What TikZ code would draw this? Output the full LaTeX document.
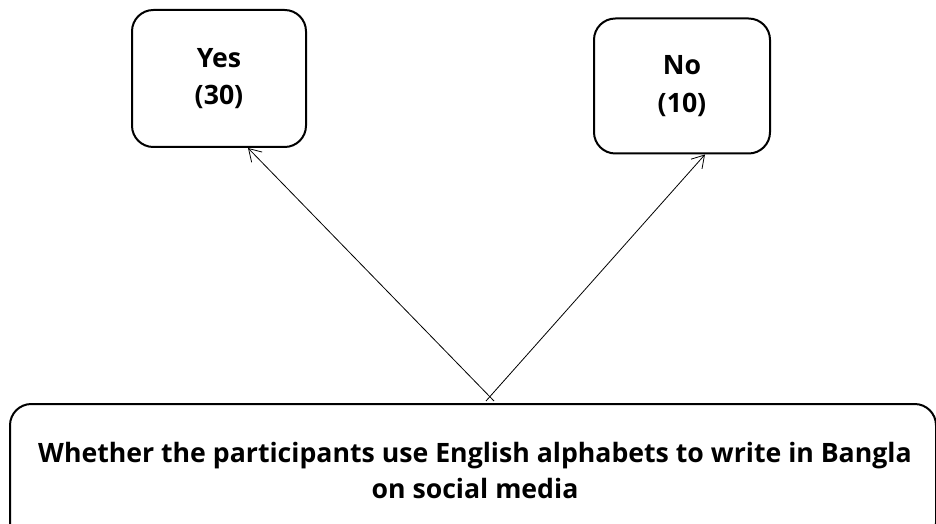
\documentclass[tikz,border=0pt]{standalone}
\usepackage{fontspec}
\setmainfont{Open Sans}
\usetikzlibrary{arrows.meta}

\begin{document}
\begin{tikzpicture}[
    x=0.75pt, y=-0.75pt,
    answer box/.style={draw, line width=1.5pt, rounded corners=16pt, align=center,
        font=\fontsize{20}{28}\selectfont\bfseries, inner sep=0pt},
    question box/.style={draw, line width=1.5pt, rounded corners=16pt},
    question text/.style={align=center, font=\fontsize{20}{27}\selectfont\bfseries},
    answer arrow/.style={-{Straight Barb[length=9pt, width=11pt]}, line width=0.6pt}
]
    % Frame
    \useasboundingbox (0,0) rectangle (936,524);

    % Answer boxes
    \node[answer box, minimum width=130.5pt, minimum height=102.75pt] (yes) at (219,78.5) {Yes\\(30)};
    \node[answer box, minimum width=132pt, minimum height=101.25pt] (no) at (682,86) {No\\(10)};

    % Question box (runs past the bottom edge)
    \node[question box, minimum width=694.5pt, minimum height=105pt, anchor=north west] (question) at (9,403) {};
    \node[question text] (qtext) at (475,470)
        {Whether the participants use English alphabets to write in Bangla\\on social media};

    % Arrows
    \coordinate (startL) at (494,401);
    \coordinate (startR) at (486,401);
    \draw[answer arrow] (startL) -- (yes.south -| 248,0);
    \draw[answer arrow] (startR) -- (no.south -| 705,0);
\end{tikzpicture}
\end{document}
